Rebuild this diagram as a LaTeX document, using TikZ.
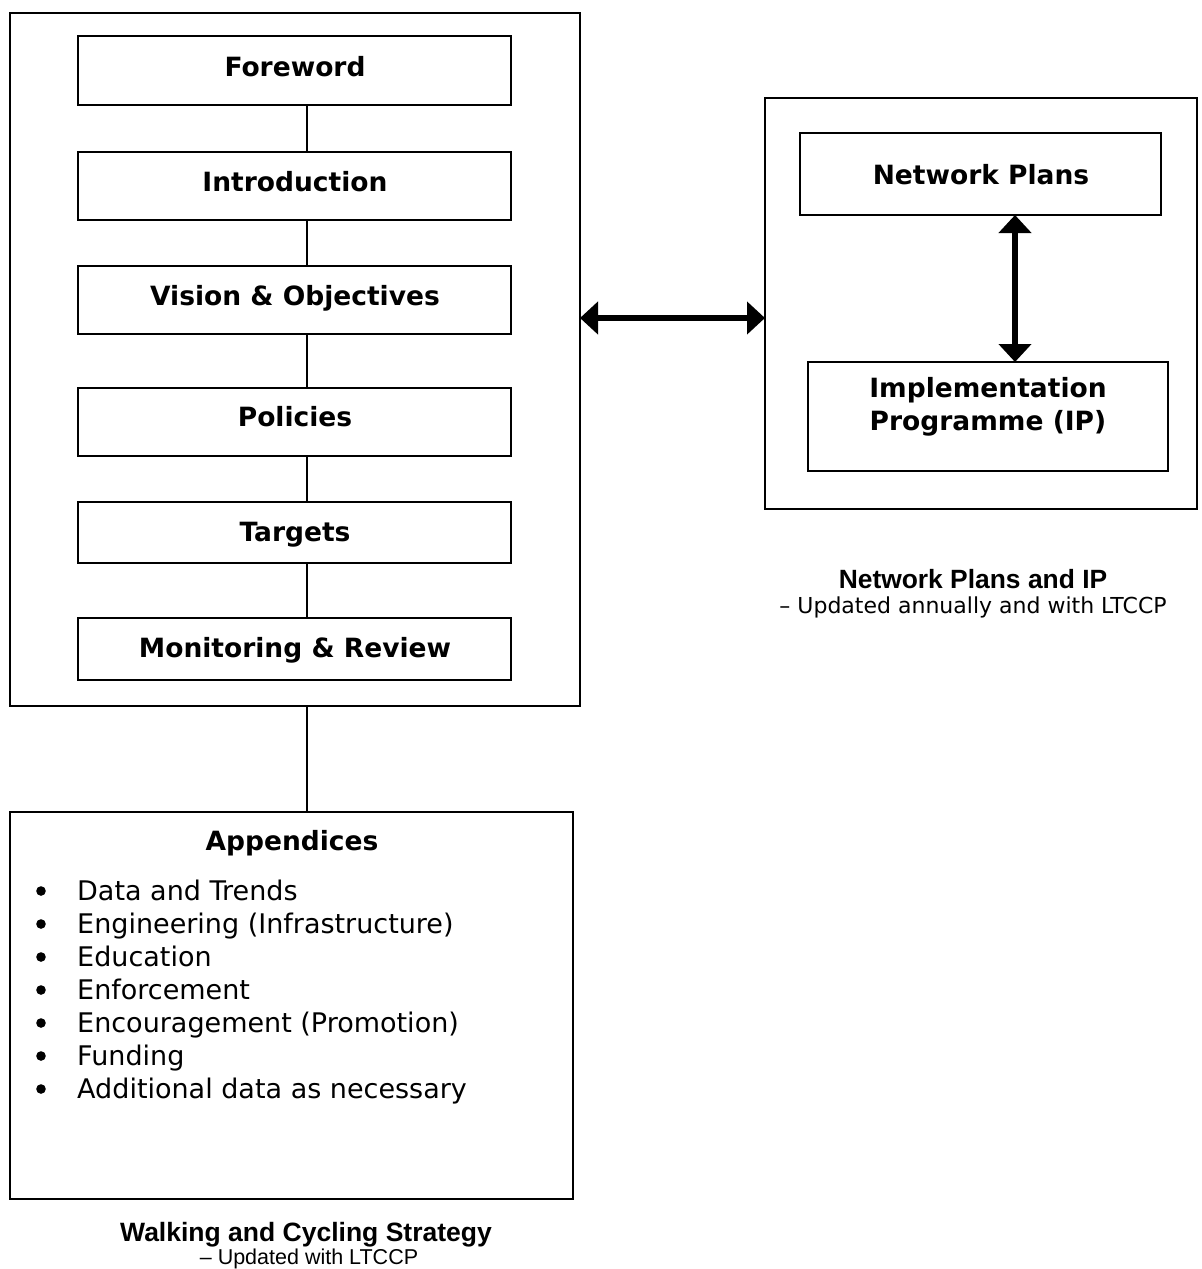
\documentclass[tikz,border=0pt]{standalone}
\usepackage{fontspec}
\setmainfont{DejaVu Sans}
\newfontfamily\arialfont{Liberation Sans}
\usetikzlibrary{arrows.meta}
\begin{document}
\begin{tikzpicture}[x=1pt,y=-1pt,
  outerbox/.style={draw,line width=2.5pt},
  innerbox/.style={draw,line width=1.8pt},
  conn/.style={line width=1.5pt},
  dbl/.style={line width=5.5pt,{Triangle[length=18pt,width=32pt]}-{Triangle[length=18pt,width=32pt]}},
  boxtext/.style={font=\fontsize{26.5}{33}\selectfont\bfseries,align=center,anchor=base,inner sep=0pt},
  itemtext/.style={font=\fontsize{27}{33}\selectfont,anchor=base west,inner sep=0pt},
]
\useasboundingbox (0,0) rectangle (1202,1269);
% left outer box
\draw[outerbox] (10,13) rectangle (580,706);
\coordinate (LB) at (307,706);
\coordinate (LR) at (580,318);
% inner boxes
\draw[innerbox] (78,36) rectangle (511,105); \coordinate (fwB) at (307,105);
\draw[innerbox] (78,152) rectangle (511,220); \coordinate (inT) at (307,152); \coordinate (inB) at (307,220);
\draw[innerbox] (78,266) rectangle (511,334); \coordinate (viT) at (307,266); \coordinate (viB) at (307,334);
\draw[innerbox] (78,388) rectangle (511,456); \coordinate (poT) at (307,388); \coordinate (poB) at (307,456);
\draw[innerbox] (78,502) rectangle (511,563); \coordinate (taT) at (307,502); \coordinate (taB) at (307,563);
\draw[innerbox] (78,618) rectangle (511,680); \coordinate (moT) at (307,618);
\node[boxtext] (fw) at (295,76) {Foreword};
\node[boxtext] (in) at (295,191) {Introduction};
\node[boxtext] (vi) at (295,305) {Vision \& Objectives};
\node[boxtext] (po) at (295,426) {Policies};
\node[boxtext] (ta) at (295,541) {Targets};
\node[boxtext] (mo) at (295,657) {Monitoring \& Review};
\draw[conn] (fwB) -- (inT);
\draw[conn] (inB) -- (viT);
\draw[conn] (viB) -- (poT);
\draw[conn] (poB) -- (taT);
\draw[conn] (taB) -- (moT);
% appendices
\draw[outerbox] (10,812) rectangle (573,1199);
\coordinate (apT) at (307,812);
\draw[conn] (LB) -- (apT);
\node[boxtext] (ap) at (292,850) {Appendices};
\foreach \t [count=\i] in {Data and Trends,Engineering (Infrastructure),Education,Enforcement,Encouragement (Promotion),Funding,Additional data as necessary}{
  \node[itemtext] (it\i) at (77,{900+(\i-1)*33}) {\t};
  \fill (41,{891+(\i-1)*33}) circle (4.8pt);
}
\node[font=\arialfont\fontsize{26.5}{30}\selectfont\bfseries,anchor=base,inner sep=0pt] (cap1) at (306,1241) {Walking and Cycling Strategy};
\node[font=\arialfont\fontsize{21.5}{24}\selectfont,anchor=base,inner sep=0pt] (cap1b) at (309,1264) {– Updated with LTCCP};
% right outer box
\draw[outerbox] (765,98) rectangle (1197,509);
\coordinate (RL) at (765,318);
\draw[innerbox] (800,133) rectangle (1161,215); \coordinate (npB) at (1015,215);
\draw[innerbox] (808,362) rectangle (1168,471); \coordinate (ipT) at (1015,362);
\node[boxtext] (np) at (981,184) {Network Plans};
\node[boxtext,anchor=center,font=\fontsize{26.5}{33}\selectfont\bfseries] (ip) at (988,407) {Implementation\\Programme (IP)};
\draw[dbl] (npB) -- (ipT);
\draw[dbl] (LR) -- (RL);
\node[font=\arialfont\fontsize{26.4}{30}\selectfont\bfseries,anchor=base,inner sep=0pt] (cap2) at (973,588) {Network Plans and IP};
\node[font=\fontsize{22}{26}\selectfont,anchor=base,inner sep=0pt] (cap2b) at (973,613) {– Updated annually and with LTCCP};
\end{tikzpicture}
\end{document}
